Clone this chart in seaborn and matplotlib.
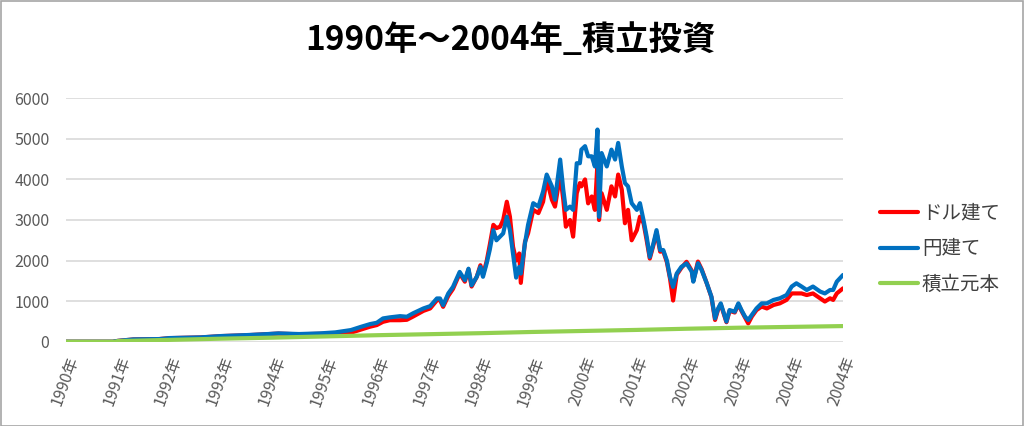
import matplotlib
matplotlib.use("Agg")
import matplotlib.pyplot as plt
import seaborn as sns
import pandas as pd
from matplotlib.patches import Rectangle

# ---- data ----
times = [1990.0, 1990.9, 1991.0, 1991.3, 1991.8, 1992.0, 1992.6, 1993.0, 1993.5, 1993.9,
         1994.1, 1994.5, 1994.9, 1995.2, 1995.5, 1995.7, 1995.87, 1996.0, 1996.12, 1996.25,
         1996.45, 1996.58, 1996.7, 1996.9, 1997.03, 1997.16, 1997.22, 1997.28, 1997.38, 1997.47,
         1997.6, 1997.7, 1997.77, 1997.83, 1997.93, 1998.0, 1998.05, 1998.12, 1998.18, 1998.25,
         1998.31, 1998.38, 1998.44, 1998.51, 1998.57, 1998.63, 1998.69, 1998.75, 1998.78, 1998.86,
         1998.92, 1999.02, 1999.12, 1999.21, 1999.28, 1999.38, 1999.44, 1999.54, 1999.6, 1999.65,
         1999.73, 1999.79, 1999.86, 1999.92, 1999.95, 2000.02, 2000.08, 2000.15, 2000.21, 2000.26,
         2000.29, 2000.34, 2000.44, 2000.53, 2000.6, 2000.66, 2000.73, 2000.79, 2000.85, 2000.92,
         2001.02, 2001.08, 2001.15, 2001.21, 2001.27, 2001.34, 2001.4, 2001.47, 2001.53, 2001.6,
         2001.66, 2001.72, 2001.79, 2001.88, 2001.98, 2002.08, 2002.11, 2002.2, 2002.27, 2002.37,
         2002.46, 2002.53, 2002.59, 2002.64, 2002.69, 2002.75, 2002.81, 2002.91, 2002.98, 2003.04,
         2003.11, 2003.17, 2003.24, 2003.33, 2003.43, 2003.53, 2003.66, 2003.78, 2003.91, 2004.01,
         2004.1, 2004.2, 2004.3, 2004.42, 2004.56, 2004.65, 2004.75, 2004.81, 2004.88, 2005.0]

usd_values = [0, 0, 20, 55, 65, 88, 105, 138, 160, 185,
              200, 182, 195, 189, 221, 303, 370, 410, 490, 530,
              530, 540, 620, 760, 820, 1020, 1030, 860, 1130, 1300,
              1680, 1480, 1780, 1360, 1600, 1885, 1650, 1980, 2380, 2880,
              2800, 2835, 3000, 3450, 3080, 2340, 2000, 2175, 1450, 2460,
              2670, 3250, 3170, 3450, 4000, 3500, 3330, 4120, 3500, 2835,
              3000, 2590, 3660, 3910, 3830, 4000, 3410, 3580, 3250, 4400,
              3000, 3660, 3250, 3830, 3580, 4120, 3745, 2920, 3250, 2500,
              2750, 3080, 2920, 2500, 2050, 2380, 2700, 2220, 2230, 1960,
              1560, 1015, 1650, 1820, 1970, 1750, 1500, 1975, 1790, 1440,
              1100, 535, 800, 920, 720, 480, 760, 720, 920, 760,
              590, 450, 620, 780, 865, 820, 905, 945, 1030, 1190,
              1190, 1190, 1150, 1190, 1070, 990, 1070, 1030, 1190, 1315]

jpy_values = [0, 0, 20, 57, 65, 90, 107, 140, 164, 189,
              205, 189, 205, 230, 287, 369, 434, 467, 574, 600,
              630, 615, 700, 820, 877, 1066, 1066, 900, 1190, 1350,
              1720, 1516, 1800, 1390, 1600, 1845, 1600, 1930, 2260, 2750,
              2500, 2590, 2670, 3080, 2750, 2175, 1580, 1845, 1680, 2420,
              2880, 3415, 3330, 3700, 4120, 3830, 3500, 4490, 3745, 3250,
              3330, 3250, 4400, 4400, 4735, 4820, 4570, 4570, 4320, 5230,
              3080, 4650, 4320, 4735, 4490, 4900, 4320, 3910, 3830, 3415,
              3250, 3415, 2990, 2590, 2090, 2420, 2750, 2260, 2260, 2000,
              1600, 1350, 1680, 1845, 1930, 1730, 1480, 1935, 1770, 1440,
              1110, 575, 820, 945, 740, 495, 780, 740, 945, 780,
              615, 535, 660, 820, 945, 945, 1030, 1070, 1150, 1360,
              1440, 1360, 1275, 1360, 1235, 1190, 1275, 1275, 1480, 1645]

principal_times = [1990.0, 1990.95, 1991.0, 1992.0, 1993.0, 1994.0, 1995.0, 1996.0, 1997.0,
                   1998.0, 1999.0, 2000.0, 2001.0, 2002.0, 2003.0, 2004.0, 2005.0]
principal_values = [0, 0, 15, 45, 75, 100, 130, 160, 185, 210, 240, 265, 290, 320, 345, 365, 385]

series_names = ["ドル建て", "円建て", "積立元本"]
series_colors = ["#FF0000", "#0070C0", "#92D050"]

tick_years = list(range(1990, 2006))
tick_labels = [f"{y}年" for y in range(1990, 2005)] + ["2004年"]

y_ticks = [0, 1000, 2000, 3000, 4000, 5000, 6000]
title_text = "1990年～2004年_積立投資"

# ---- build long-form data ----
df = pd.concat([
    pd.DataFrame({"t": times, "v": usd_values, "s": series_names[0]}),
    pd.DataFrame({"t": times, "v": jpy_values, "s": series_names[1]}),
    pd.DataFrame({"t": principal_times, "v": principal_values, "s": series_names[2]}),
], ignore_index=True)

sns.set_theme(style="white")
plt.rcParams["font.family"] = ["Noto Sans CJK JP", "DejaVu Sans"]

fig = plt.figure(figsize=(10.24, 4.26), dpi=100)
ax = fig.add_axes([66 / 1024, 1 - 341.7 / 426, (843 - 66) / 1024, (341.7 - 98.3) / 426])

sns.lineplot(data=df, x="t", y="v", hue="s", hue_order=series_names,
             palette=dict(zip(series_names, series_colors)),
             estimator=None, sort=False, linewidth=3.0, ax=ax, legend=True)

ax.set_xlim(1990, 2005)
ax.set_ylim(0, 6000)
ax.set_yticks(y_ticks)
ax.set_yticklabels([str(v) for v in y_ticks], color="#595959", fontsize=11.5)
ax.set_xticks(tick_years)
ax.set_xticklabels(tick_labels, rotation=70, ha="right", rotation_mode="anchor",
                   color="#595959", fontsize=11.5)
ax.tick_params(axis="y", length=0, pad=12)
ax.tick_params(axis="x", length=0, pad=9)
ax.set_xlabel("")
ax.set_ylabel("")
ax.grid(axis="y", color="#d9d9d9", linewidth=1.2)
ax.set_axisbelow(True)
for sp in ax.spines.values():
    sp.set_visible(False)

fig.text(510 / 1024, (426 - 40) / 426, title_text, fontsize=24, fontweight="bold",
         color="#000000", ha="center", va="center")

handles, labels = ax.get_legend_handles_labels()
ax.legend(handles, labels, loc="center left", bbox_to_anchor=(880 / 1024, (426 - 249) / 426),
          bbox_transform=fig.transFigure, frameon=False, fontsize=14,
          handlelength=1.95, handletextpad=0.2, labelspacing=0.75, borderaxespad=0,
          borderpad=0)
for line in ax.get_legend().get_lines():
    line.set_linewidth(3.0)
for txt in ax.get_legend().get_texts():
    txt.set_color("#404040")

fig.patches.append(Rectangle((0.5 / 1024, 0.5 / 426), 1 - 1.5 / 1024, 1 - 1.5 / 426,
                             transform=fig.transFigure, fill=False,
                             edgecolor="#a6a6a6", linewidth=1.2))

fig.savefig("out.png", dpi=100, facecolor="white")
